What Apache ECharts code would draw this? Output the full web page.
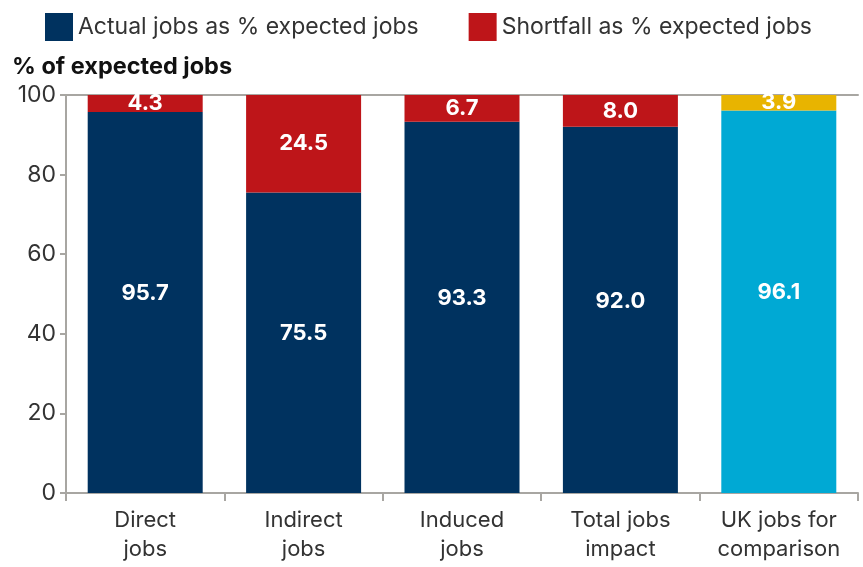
<!DOCTYPE html>
<html>
<head>
<meta charset="utf-8">
<script src="https://cdn.jsdelivr.net/npm/echarts@6/dist/echarts.min.js"></script>
<style>
  html, body { margin: 0; padding: 0; background: #fff; }
  #main { width: 863px; height: 567px; }
</style>
</head>
<body>
<div id="main"></div>
<script>
// categories and values
const categories = ['Direct\njobs', 'Indirect\njobs', 'Induced\njobs', 'Total jobs\nimpact', 'UK jobs for\ncomparison'];
const actualPct = [95.7, 75.5, 93.3, 92.0, 96.1];
const shortfallPct = [4.3, 24.5, 6.7, 8.0, 3.9];
const yTicks = [0, 20, 40, 60, 80, 100];

const NAVY = '#00325f', RED = '#be1519', CYAN = '#00a9d4', YELLOW = '#e8b400';
const FONT = 'Inter, "Noto Sans", sans-serif';

var myChart = echarts.init(document.getElementById('main'));

// last bar is the UK comparison, coloured differently
function colourize(vals, normal, last) {
    return vals.map((v, i) => ({
        value: v,
        itemStyle: { color: i === vals.length - 1 ? last : normal }
    }));
}

function labelStyle(offsetY) {
    return {
        show: true,
        position: 'inside',
        offset: [0, offsetY],
        color: '#fff',
        fontFamily: FONT,
        fontWeight: 'bold',
        fontSize: 22,
        formatter: p => p.value.toFixed(1)
    };
}

myChart.setOption({
    animation: false,
    textStyle: { fontFamily: FONT },
    title: {
        text: '% of expected jobs',
        left: 7,
        top: 50,
        textStyle: { fontFamily: FONT, fontWeight: 'bold', fontSize: 23.5, color: '#111' }
    },
    legend: {
        left: 40,
        top: 8,
        itemWidth: 28,
        itemHeight: 28,
        itemGap: 50,
        icon: 'rect',
        textStyle: { fontFamily: FONT, fontSize: 23, color: '#333', padding: [0, 0, 0, 0] },
        data: [
            { name: 'Actual jobs as % expected jobs', itemStyle: { color: NAVY } },
            { name: 'Shortfall as % expected jobs', itemStyle: { color: RED } }
        ]
    },
    grid: { left: 66, right: 5, top: 95, bottom: 74 },
    xAxis: [{
        type: 'category',
        data: categories,
        axisLine: { lineStyle: { color: '#a8a6a2', width: 2 } },
        axisTick: { show: true, length: 8, lineStyle: { color: '#a8a6a2', width: 2 } },
        axisLabel: { interval: 0, fontFamily: FONT, fontSize: 22, color: '#333', lineHeight: 29, margin: 13 }
    }, {
        // top border at 100
        type: 'category',
        position: 'top',
        data: categories,
        axisLine: { lineStyle: { color: '#a8a6a2', width: 2 } },
        axisTick: { show: false },
        axisLabel: { show: false }
    }],
    yAxis: {
        type: 'value',
        min: yTicks[0],
        max: yTicks[yTicks.length - 1],
        interval: 20,
        axisLine: { show: true, lineStyle: { color: '#a8a6a2', width: 2 } },
        axisTick: { show: true, length: 6, lineStyle: { color: '#a8a6a2', width: 2 } },
        splitLine: { show: false },
        axisLabel: { fontFamily: FONT, fontSize: 23, color: '#333', margin: 10 }
    },
    series: [{
        name: 'Actual jobs as % expected jobs',
        type: 'bar',
        stack: 'total',
        barWidth: '72.6%',
        itemStyle: { color: NAVY },
        label: labelStyle(-9),
        data: colourize(actualPct, NAVY, CYAN)
    }, {
        name: 'Shortfall as % expected jobs',
        type: 'bar',
        stack: 'total',
        barWidth: '72.6%',
        itemStyle: { color: RED },
        label: labelStyle(0),
        data: colourize(shortfallPct, RED, YELLOW)
    }]
});
</script>
</body>
</html>
